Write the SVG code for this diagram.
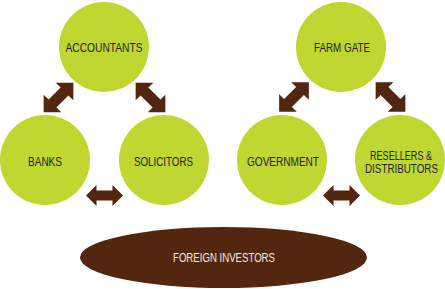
<svg xmlns="http://www.w3.org/2000/svg" xmlns:xlink="http://www.w3.org/1999/xlink" width="445" height="289" viewBox="0 0 445 289">
<style>
.node{fill:#c0d631}
.lbl{font-family:"Liberation Sans",Arial,sans-serif;font-size:12px;fill:#231f20;text-anchor:middle}
.arr{fill:#52260f}
.inv{fill:#52260f}
.invlbl{font-family:"Liberation Sans",Arial,sans-serif;font-size:12px;fill:#f2ebe6;text-anchor:middle}
</style>
<defs>
<path id="ah" d="M-18.5 0L-8 -10.5L-8 -5L8 -5L8 -10.5L18.5 0L8 10.5L8 5L-8 5L-8 10.5Z"/>
<path id="ad" d="M-21 0L-8.5 -12.5L-8.5 -5.5L8.5 -5.5L8.5 -12.5L21 0L8.5 12.5L8.5 5.5L-8.5 5.5L-8.5 12.5Z"/>
</defs>
<rect width="445" height="289" fill="#fff"/>
<g id="accountants"><circle class="node" cx="104" cy="47" r="45"/><text class="lbl" x="104" y="52" textLength="77" lengthAdjust="spacingAndGlyphs">ACCOUNTANTS</text></g>
<g id="banks"><circle class="node" cx="45" cy="160" r="45"/><text class="lbl" x="45" y="166" textLength="34" lengthAdjust="spacingAndGlyphs">BANKS</text></g>
<g id="solicitors"><circle class="node" cx="164" cy="160" r="45"/><text class="lbl" x="163.5" y="166" textLength="59" lengthAdjust="spacingAndGlyphs">SOLICITORS</text></g>
<g id="farm-gate"><circle class="node" cx="341" cy="47" r="45"/><text class="lbl" x="342" y="52" textLength="56" lengthAdjust="spacingAndGlyphs">FARM GATE</text></g>
<g id="government"><circle class="node" cx="282" cy="160" r="45"/><text class="lbl" x="283" y="166" textLength="72" lengthAdjust="spacingAndGlyphs">GOVERNMENT</text></g>
<g id="resellers"><circle class="node" cx="400" cy="160" r="45"/><text class="lbl" x="401" y="159.5" textLength="62" lengthAdjust="spacingAndGlyphs">RESELLERS &amp;</text><text class="lbl" x="401.5" y="172.5" textLength="73" lengthAdjust="spacingAndGlyphs">DISTRIBUTORS</text></g>
<g id="foreign-investors"><ellipse class="inv" cx="223.5" cy="257.5" rx="143.5" ry="30.5"/><text class="invlbl" x="224" y="262" textLength="102" lengthAdjust="spacingAndGlyphs">FOREIGN INVESTORS</text></g>
<g id="connectors" class="arr">
<use xlink:href="#ad" transform="translate(58.5 97.5) rotate(-45)"/>
<use xlink:href="#ad" transform="translate(150.5 97.5) rotate(45)"/>
<use xlink:href="#ah" transform="translate(104.5 195.5)"/>
<use xlink:href="#ad" transform="translate(294 97) rotate(-45)"/>
<use xlink:href="#ad" transform="translate(390.5 97) rotate(45)"/>
<use xlink:href="#ah" transform="translate(341.5 195.5)"/>
</g>
</svg>
